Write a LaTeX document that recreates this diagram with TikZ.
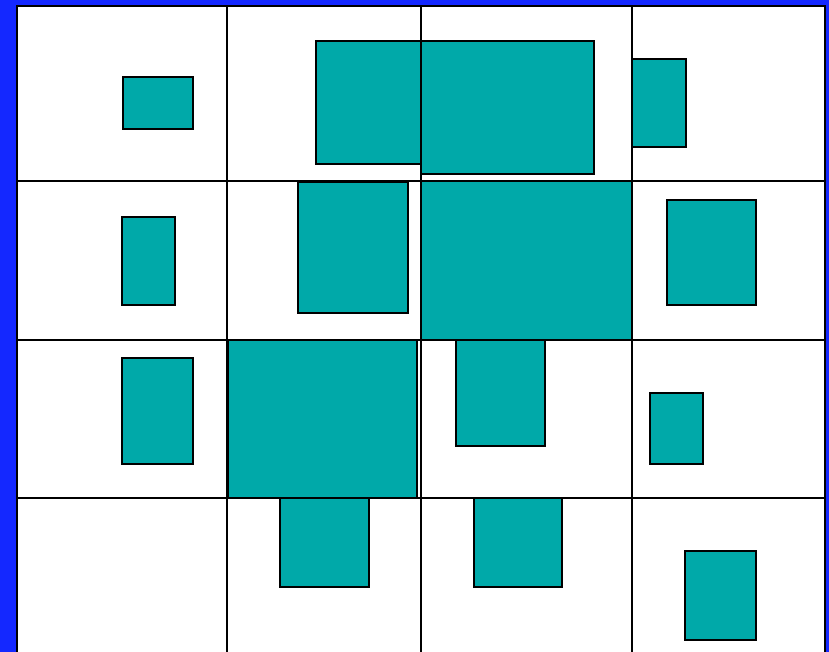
\documentclass[tikz,border=0pt]{standalone}
\usepackage{xcolor}
\usepackage{tikz}
\definecolor{slideblue}{HTML}{1428FF}
\definecolor{tileteal}{HTML}{00A9A9}

\begin{document}
\begin{tikzpicture}[x=0.03cm, y=-0.03cm,
    cell/.style={draw=black, line width=1.1pt, fill=white},
    tile/.style={draw=black, line width=1.4pt, fill=tileteal}]
    % background and grid
    \fill[slideblue] (0,0) rectangle (829,652);
    \useasboundingbox (0,0) rectangle (829,652);
    \draw[cell] (17,6) rectangle (825,660);
    \draw[line width=1.1pt] (227,6) -- (227,652);
    \draw[line width=1.1pt] (421,6) -- (421,652);
    \draw[line width=1.1pt] (632,6) -- (632,652);
    \draw[line width=1.1pt] (17,181) -- (825,181);
    \draw[line width=1.1pt] (17,340) -- (825,340);
    \draw[line width=1.1pt] (17,498) -- (825,498);

    % row 1
    \draw[tile] (123,77) rectangle (193,129);
    \draw[tile] (316,41) rectangle (421,164);
    \draw[tile] (421,41) rectangle (594,174);
    \draw[tile] (632,59) rectangle (686,147);
    % row 2
    \draw[tile] (122,217) rectangle (175,305);
    \draw[tile] (298,182) rectangle (408,313);
    \draw[tile] (421,181) rectangle (632,340);
    \draw[tile] (667,200) rectangle (756,305);
    % row 3
    \draw[tile] (122,358) rectangle (193,464);
    \draw[tile] (228,340) rectangle (417,498);
    \draw[tile] (456,340) rectangle (545,446);
    \draw[tile] (650,393) rectangle (703,464);
    % row 4
    \draw[tile] (280,498) rectangle (369,587);
    \draw[tile] (474,498) rectangle (562,587);
    \draw[tile] (685,551) rectangle (756,640);
\end{tikzpicture}
\end{document}
